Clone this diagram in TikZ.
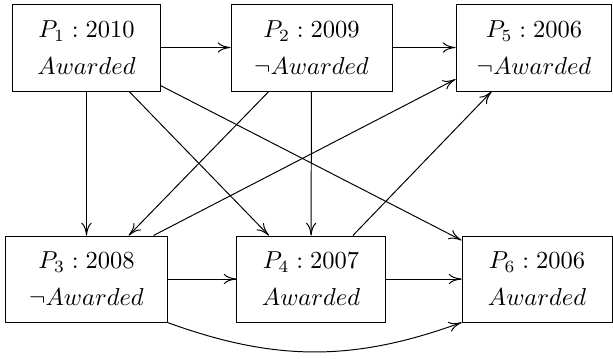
\documentclass[tikz,border=0pt]{standalone}
\usetikzlibrary{arrows.meta}
\begin{document}
\begin{tikzpicture}[x=0.408pt,y=-0.408pt,
  pbox/.style={draw,line width=0.4pt,inner sep=0pt,align=center,minimum height=35.5pt},
  conn/.style={-{Computer Modern Rightarrow[length=5.2pt,width=4.2pt]},line width=0.4pt}]
\useasboundingbox (0,0) rectangle (613,358);
\node[pbox,minimum width=60.0pt] (P1) at (86.5,47.5) {$P_1: 2010$\\[3.1pt]$Awarded$};
\node[pbox,minimum width=65.7pt] (P2) at (311.5,47.5) {$P_2: 2009$\\[3.1pt]$\neg Awarded$};
\node[pbox,minimum width=63.6pt] (P5) at (534,47.5) {$P_5: 2006$\\[3.1pt]$\neg Awarded$};
\node[pbox,minimum width=65.7pt,minimum height=35.1pt] (P3) at (86.5,279) {$P_3: 2008$\\[3.1pt]$\neg Awarded$};
\node[pbox,minimum width=60.4pt,minimum height=35.1pt] (P4) at (311,279) {$P_4: 2007$\\[3.1pt]$Awarded$};
\node[pbox,minimum width=61.2pt,minimum height=35.1pt] (P6) at (537,279) {$P_6: 2006$\\[3.1pt]$Awarded$};
\draw[conn] (P1) -- (P2);
\draw[conn] (P2) -- (P5);
\draw[conn] (P1) -- (P3);
\draw[conn] (P1) -- (P4);
\draw[conn] (P1) -- (P6);
\draw[conn] (P2) -- (P3);
\draw[conn] (P2) -- (P4);
\draw[conn] (P3.33) -- (P5.202);
\draw[conn] (P4) -- (P5);
\draw[conn] (P3) -- (P4);
\draw[conn] (P4) -- (P6);
\draw[conn] (P3.south east) to[bend right=20] (P6.south west);
\end{tikzpicture}
\end{document}
